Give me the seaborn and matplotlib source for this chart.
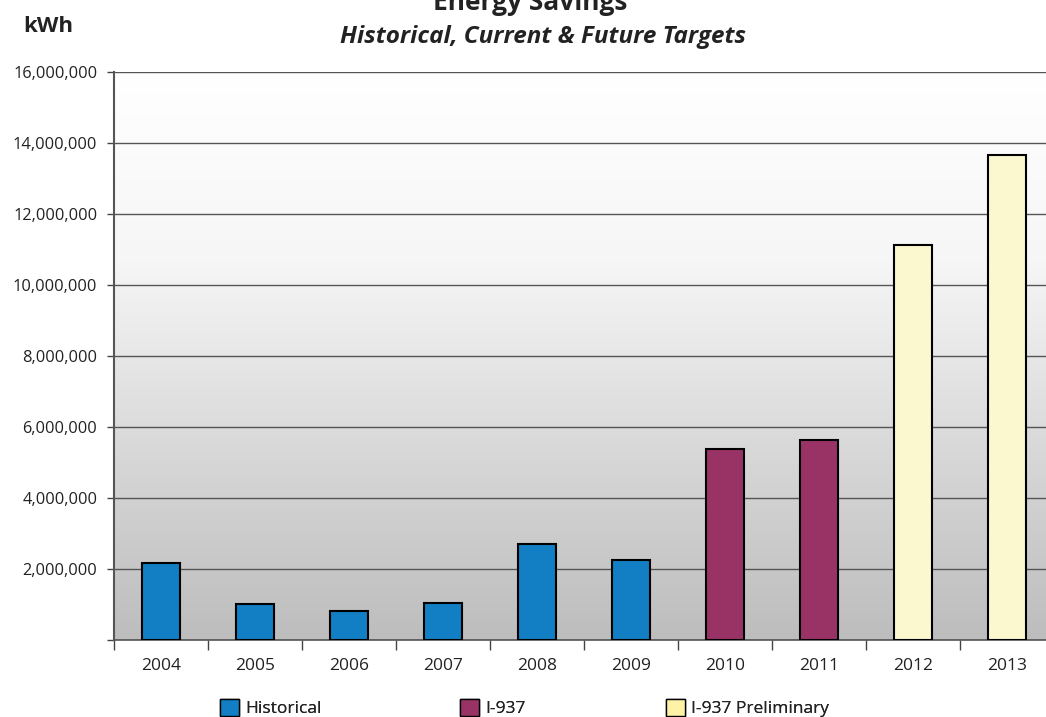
import numpy as np
import pandas as pd
import matplotlib.pyplot as plt
import seaborn as sns
from matplotlib.patches import Patch
from matplotlib.ticker import FuncFormatter

years = ['2004', '2005', '2006', '2007', '2008', '2009', '2010', '2011', '2012', '2013']
savings = [2170000, 1010000, 820000, 1040000, 2700000, 2250000, 5380000, 5630000, 11130000, 13660000]
groups = ['Historical'] * 6 + ['I-937'] * 2 + ['I-937 Preliminary'] * 2
colors = {'Historical': '#127ec3', 'I-937': '#993366', 'I-937 Preliminary': '#fbf8cf'}
legend_colors = {'Historical': '#127ec3', 'I-937': '#993366', 'I-937 Preliminary': '#fdf2a6'}

df = pd.DataFrame({'year': years, 'kwh': savings, 'group': groups})

sns.set_style('white')
plt.rcParams['font.family'] = ['Open Sans', 'DejaVu Sans']

fig = plt.figure(figsize=(10.46, 7.17), dpi=100)
# right edge of the plot runs slightly past the figure, like the original
ax = fig.add_axes([114 / 1046, 1 - 640 / 717, 940 / 1046, 568 / 717])

# grey gradient background
grad = np.linspace(0, 1, 256).reshape(-1, 1)
ax.imshow(grad, extent=[0, 1, 0, 1], transform=ax.transAxes, aspect='auto',
          cmap=sns.blend_palette(['#bdbdbd', '#d8d8d8', '#f6f6f6', '#ffffff'], as_cmap=True),
          origin='lower', zorder=0)

sns.barplot(data=df, x='year', y='kwh', hue='group', palette=colors, dodge=False, saturation=1,
            width=0.4, edgecolor='black', linewidth=1.5, legend=False, ax=ax, zorder=3)

ax.set_xlim(-0.5, 9.5)
ax.set_ylim(0, 16000000)
ax.set_yticks(np.arange(0, 16000001, 2000000))
ax.yaxis.set_major_formatter(FuncFormatter(lambda v, p: '' if v == 0 else f'{int(v):,}'))
ax.set_xticks(np.arange(-0.5, 10, 1), minor=False)
ax.set_xticklabels([])
ax.set_xticks(np.arange(10), minor=True)
ax.set_xticklabels(years, minor=True)
ax.tick_params(axis='x', which='major', length=7, width=1, color='#444444', direction='out', bottom=True)
ax.tick_params(axis='x', which='minor', length=0, labelsize=12.5, pad=13, labelcolor='#222222')
ax.tick_params(axis='y', length=5, width=1, color='#444444', direction='out', left=True,
               labelsize=11.8, labelcolor='#222222', pad=7)
ax.grid(axis='y', color='#555555', linewidth=1, zorder=1)
ax.set_axisbelow(True)
ax.set_xlabel('')
ax.set_ylabel('')
for s in ['top', 'right']:
    ax.spines[s].set_visible(False)
ax.spines['left'].set_color('#555555')
ax.spines['left'].set_linewidth(1.5)
ax.spines['bottom'].set_color('#555555')
ax.spines['bottom'].set_linewidth(1.2)

fig.text(530 / 1046, 1 - 3 / 717, 'Energy Savings', ha='center', va='center',
         fontsize=19, fontweight='bold', color='#222222')
fig.text(543 / 1046, 1 - 37 / 717, 'Historical, Current & Future Targets', ha='center', va='center',
         fontsize=17.5, fontweight='bold', fontstyle='italic', color='#222222')
fig.text(48 / 1046, 1 - 26 / 717, 'kWh', ha='center', va='center',
         fontsize=16, fontweight='bold', color='#222222')

# three legend entries, placed like the original (uneven spacing)
for g, x in zip(['Historical', 'I-937', 'I-937 Preliminary'], [220, 460, 666]):
    h = Patch(facecolor=legend_colors[g], edgecolor='black', linewidth=1, label=g)
    leg = fig.legend(handles=[h], loc='center left', bbox_to_anchor=(x / 1046, 1 - 708 / 717),
                     frameon=False, fontsize=12.5, handlelength=1.1, handleheight=1.1,
                     handletextpad=0.35, borderpad=0, borderaxespad=0, labelcolor='#222222')
    fig.add_artist(leg)

fig.savefig('out.png', dpi=100)
